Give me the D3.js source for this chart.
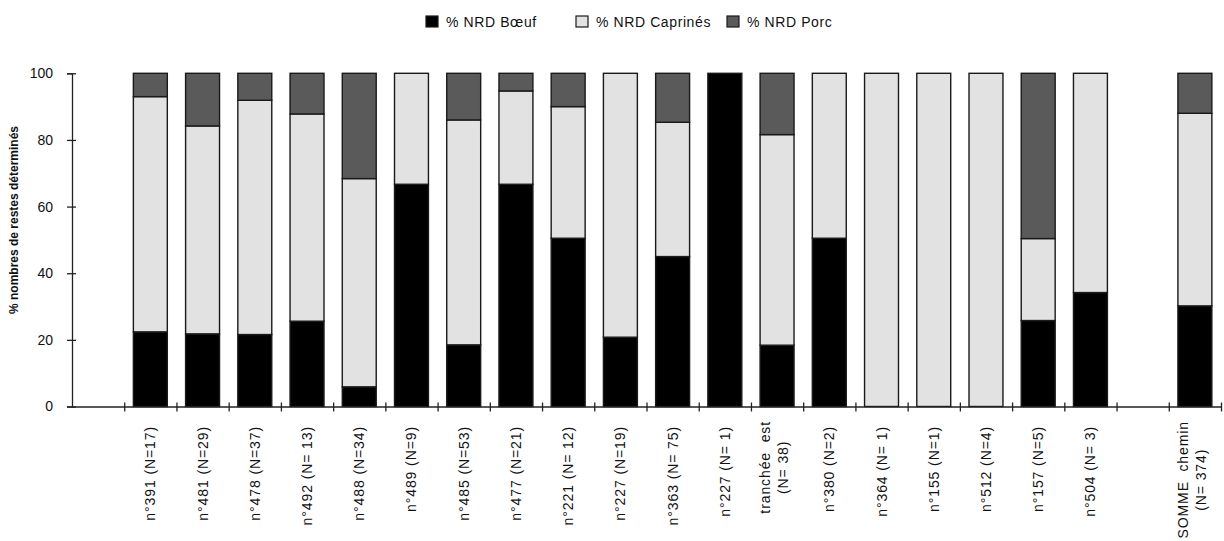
<!DOCTYPE html>
<html>
<head>
<meta charset="utf-8">
<script src="https://cdn.jsdelivr.net/npm/d3@7"></script>
<style>
  body { margin: 0; background: #fff; }
  svg { display: block; }
  text { font-family: "Liberation Sans", Arial, sans-serif; fill: #111; }
</style>
</head>
<body>
<svg id="chart" width="1224" height="541"></svg>
<script>
// ---- data ----
const categories = [
  "", "n°391 (N=17)", "n°481 (N=29)", "n°478 (N=37)", "n°492 (N= 13)", "n°488 (N=34)",
  "n°489 (N=9)", "n°485 (N=53)", "n°477 (N=21)", "n°221 (N= 12)", "n°227 (N=19)",
  "n°363 (N= 75)", "n°227 (N= 1)", "tranchée\u00a0 est\n(N= 38)", "n°380 (N=2)", "n°364 (N= 1)",
  "n°155 (N=1)", "n°512 (N=4)", "n°157 (N=5)", "n°504 (N= 3)", "", "SOMME\u00a0 chemin\n(N= 374)"
];
const boeuf    = [null, 22.4, 21.8, 21.6, 25.6, 5.9, 66.7, 18.5, 66.7, 50.5, 20.8, 45.0, 100, 18.4, 50.5, 0, 0, 0, 25.8, 34.2, null, 30.2];
const caprines = [null, 70.6, 62.4, 70.3, 62.2, 62.5, 33.3, 67.5, 28.0, 39.5, 79.2, 40.3, 0, 63.2, 49.5, 100, 100, 100, 24.6, 65.8, null, 57.8];
const porc     = [null, 7.0, 15.8, 8.1, 12.2, 31.6, 0, 14.0, 5.3, 10.0, 0, 14.7, 0, 18.4, 0, 0, 0, 0, 49.6, 0, null, 12.0];
const seriesNames = ["% NRD Bœuf", "% NRD Caprinés", "% NRD Porc"];
const yTicks = [0, 20, 40, 60, 80, 100];
const colors = ["#000000", "#e2e2e2", "#5a5a5a"];

// ---- build ----
const svg = d3.select("#chart");
const mLeft = 72, mRight = 1221, mTop = 73.3, mBottom = 406.5;

const rows = categories.map((c, i) => ({ i, c, b: boeuf[i], c2: caprines[i], p: porc[i] }));
const keys = ["b", "c2", "p"];

const x = d3.scaleBand().domain(d3.range(categories.length))
  .range([mLeft, mRight]).paddingInner(0.35).paddingOuter(0.175);
const y = d3.scaleLinear().domain([0, 100]).range([mBottom, mTop]);
const xb = d3.scaleLinear().domain([0, categories.length]).range([mLeft, mRight]);

const stack = d3.stack().keys(keys).value((d, k) => d[k] == null ? 0 : d[k]);
const series = stack(rows.filter(r => r.b != null));

svg.append("g").selectAll("g").data(series).join("g")
  .attr("fill", (d, i) => colors[i])
  .selectAll("rect").data(d => d.filter(s => s[1] - s[0] > 0)).join("rect")
  .attr("x", d => x(d.data.i))
  .attr("width", x.bandwidth())
  .attr("y", d => y(d[1]))
  .attr("height", d => y(d[0]) - y(d[1]))
  .attr("stroke", "#1a1a1a")
  .attr("stroke-width", 1.4);

// y axis
const yAxis = svg.append("g").attr("transform", `translate(${mLeft},0)`)
  .call(d3.axisLeft(y).tickValues(yTicks).tickSizeOuter(0).tickSize(5).tickPadding(14));
yAxis.select(".domain").attr("stroke", "#222").attr("stroke-width", 1.3);
yAxis.selectAll(".tick line").attr("x1", 4).attr("x2", -5).attr("stroke", "#222").attr("stroke-width", 1.3);
yAxis.selectAll(".tick text").style("font-size", "14px").style("font-family", "Liberation Sans, Arial, sans-serif").attr("fill", "#111");

// x axis (ticks at band boundaries)
const xAxis = svg.append("g").attr("transform", `translate(0,${mBottom})`)
  .call(d3.axisBottom(xb).tickValues(d3.range(1, categories.length + 1)).tickSizeOuter(0).tickFormat(""));
xAxis.select(".domain").attr("stroke", "#222").attr("stroke-width", 1.3);
xAxis.selectAll(".tick line").attr("y1", -4).attr("y2", 5).attr("stroke", "#222").attr("stroke-width", 1.3);

// x labels
const labG = svg.append("g");
categories.forEach((c, i) => {
  if (!c) return;
  const cx = x(i) + x.bandwidth() / 2;
  const lines = c.split("\n");
  if (lines.length === 1) {
    labG.append("text")
      .attr("transform", `translate(${cx + 5},426) rotate(-90)`)
      .attr("text-anchor", "end")
      .style("font-size", "14px").style("letter-spacing", "0.9px")
      .text(c);
  } else {
    const t = labG.append("text").style("font-size", "14px").style("letter-spacing", "0.9px");
    const tspans = lines.map((l, k) => t.append("tspan").text(l));
    const maxLen = d3.max(tspans, s => s.node().getComputedTextLength());
    const cy = 421 + maxLen / 2;
    t.attr("transform", `translate(${cx},${cy}) rotate(-90)`).attr("text-anchor", "middle");
    tspans.forEach((s, k) => s.attr("x", 0).attr("y", k === 0 ? -7 : 11));
  }
});

// y title
svg.append("text")
  .attr("transform", "translate(18,220) rotate(-90)")
  .attr("text-anchor", "middle")
  .style("font-size", "12px").style("font-weight", "bold")
  .text("% nombres de restes déterminés");

// legend
const legX = [426, 576, 727];
const lg = svg.append("g");
seriesNames.forEach((n, i) => {
  lg.append("rect").attr("x", legX[i]).attr("y", 16).attr("width", 12).attr("height", 11)
    .attr("fill", colors[i]).attr("stroke", "#1a1a1a").attr("stroke-width", 1.2);
  lg.append("text").attr("x", legX[i] + 20).attr("y", 26.5)
    .style("font-size", "14px").style("letter-spacing", "0.6px").text(n);
});
</script>
</body>
</html>
